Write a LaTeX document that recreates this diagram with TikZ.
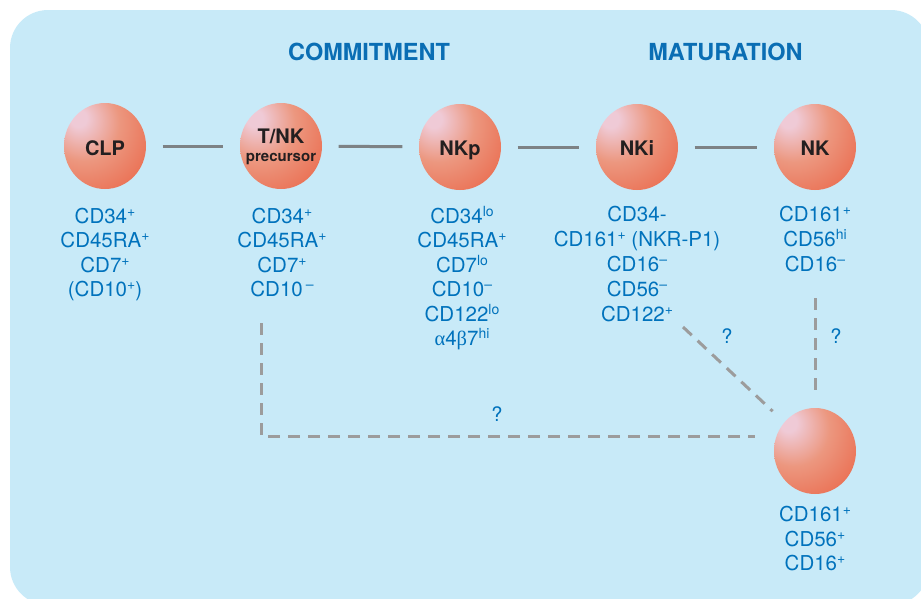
\documentclass[tikz,border=0pt]{standalone}
\usepackage{fontspec}
\setmainfont{TeX Gyre Heros}
\newfontfamily\grk{Liberation Serif}
\usetikzlibrary{shapes.geometric}
\definecolor{bgblue}{HTML}{C8EAF8}
\definecolor{txtblue}{HTML}{0072BC}
\definecolor{hdblue}{HTML}{0A6EB4}
\definecolor{lineg}{HTML}{7D8285}
\definecolor{dashg}{HTML}{9C9C9C}
\definecolor{cellhl}{HTML}{EFCAD6}
\definecolor{cellmid}{HTML}{EC977F}
\definecolor{cellred}{HTML}{EA6B4E}
\definecolor{darktxt}{HTML}{231F20}
\pgfdeclareradialshading{cellball}{\pgfpoint{-17bp}{17bp}}{color(0bp)=(cellhl); color(5bp)=(cellhl); color(22bp)=(cellmid); color(44bp)=(cellred); color(100bp)=(cellred)}
\newcommand\supr[1]{\raisebox{7pt}{\fontsize{14}{14}\selectfont #1}}
\newcommand\fl{\rule{0pt}{17.5pt}}
\tikzset{
  cell/.style={ellipse, minimum width=82pt, minimum height=86pt, inner sep=0pt, shading=cellball},
  celltxt/.style={text=darktxt, anchor=base, inner sep=0pt, font=\bfseries\fontsize{20}{20}\selectfont},
  smalltxt/.style={text=darktxt, anchor=base, inner sep=0pt, font=\bfseries\fontsize{15}{15}\selectfont},
  lab/.style={text=txtblue, align=center, anchor=north, inner sep=0pt, font=\fontsize{20.5}{24.4}\selectfont},
  labw/.style={lab, font=\fontsize{20.5}{25}\selectfont},
  hdr/.style={text=hdblue, anchor=base, inner sep=0pt, font=\bfseries\fontsize{23.5}{24}\selectfont},
  link/.style={draw=lineg, line width=3pt, shorten <=16.5pt, shorten >=16.5pt},
  dlink/.style={draw=dashg, line width=3pt, dash pattern=on 12pt off 8pt},
  qm/.style={text=txtblue, inner sep=0pt, font=\fontsize{20}{20}\selectfont}
}
\begin{document}
\begin{tikzpicture}[x=1pt, y=-1pt]
\useasboundingbox (0,0) rectangle (921,598);
\fill[bgblue, rounded corners=38pt] (10,10) rectangle (929,605);

% headers
\node[hdr] (hcom) at (369,60.5) {COMMITMENT};
\node[hdr] (hmat) at (725.5,60.5) {MATURATION};

% cells
\node[cell] (clp) at (105,146) {};
\node[cell] (tnk) at (281,146) {};
\node[cell] (nkp) at (460,147) {};
\node[cell] (nki) at (637,147) {};
\node[cell] (nk) at (815,147) {};
\node[cell] (bot) at (815,451) {};

\node[celltxt] (clpT) at (105,155.7) {CLP};
\node[celltxt] (tnkT) at (281,143.3) {T/NK};
\node[smalltxt] (tnkP) at (281,161) {precursor};
\node[celltxt] (nkpT) at (460,155.7) {NKp};
\node[celltxt] (nkiT) at (637,155.7) {NKi};
\node[celltxt] (nkT) at (815,155.7) {NK};

% solid links
\draw[link] (clp) -- (tnk);
\draw[link] (tnk) -- (nkp);
\draw[link] (nkp) -- (nki);
\draw[link] (nki) -- (nk);

% marker labels
\node[lab] (clpL) at (105,205.8) {\fl CD34\supr{+}\\CD45RA\supr{+}\\CD7\supr{+}\\(CD10\supr{+})};
\node[lab] (tnkL) at (282,205.8) {\fl CD34\supr{+}\\CD45RA\supr{+}\\CD7\supr{+}\\CD10\kern3pt\supr{–}};
\node[lab] (nkpL) at (462,205.8) {\fl CD34\supr{lo}\\CD45RA\supr{+}\\CD7\supr{lo}\\CD10\supr{–}\\CD122\supr{lo}\\{\grk α}4{\grk β}7\supr{hi}};
\node[labw] (nkiL) at (637,204.2) {\fl CD34-\\CD161\supr{+} (NKR-P1)\\CD16\supr{–}\\CD56\supr{–}\\CD122\supr{+}};
\node[labw] (nkL) at (815,204.2) {\fl CD161\supr{+}\\CD56\supr{hi}\\CD16\supr{–}};
\node[lab] (botL) at (815,504.2) {\fl CD161\supr{+}\\CD56\supr{+}\\CD16\supr{+}};

% dashed links
\coordinate (d1s) at (261,323);
\coordinate (d1e) at (755,436);
\draw[dlink] (d1s) |- (d1e);
\coordinate (d2s) at (683,327);
\draw[dlink, shorten >=16pt] (d2s) -- (bot);
\coordinate (d3s) at (815,298);
\draw[dlink, shorten >=11pt] (d3s) -- (bot);

\node[qm] (q1) at (727,336) {?};
\node[qm] (q2) at (836,336) {?};
\node[qm] (q3) at (497,414) {?};
\end{tikzpicture}
\end{document}
